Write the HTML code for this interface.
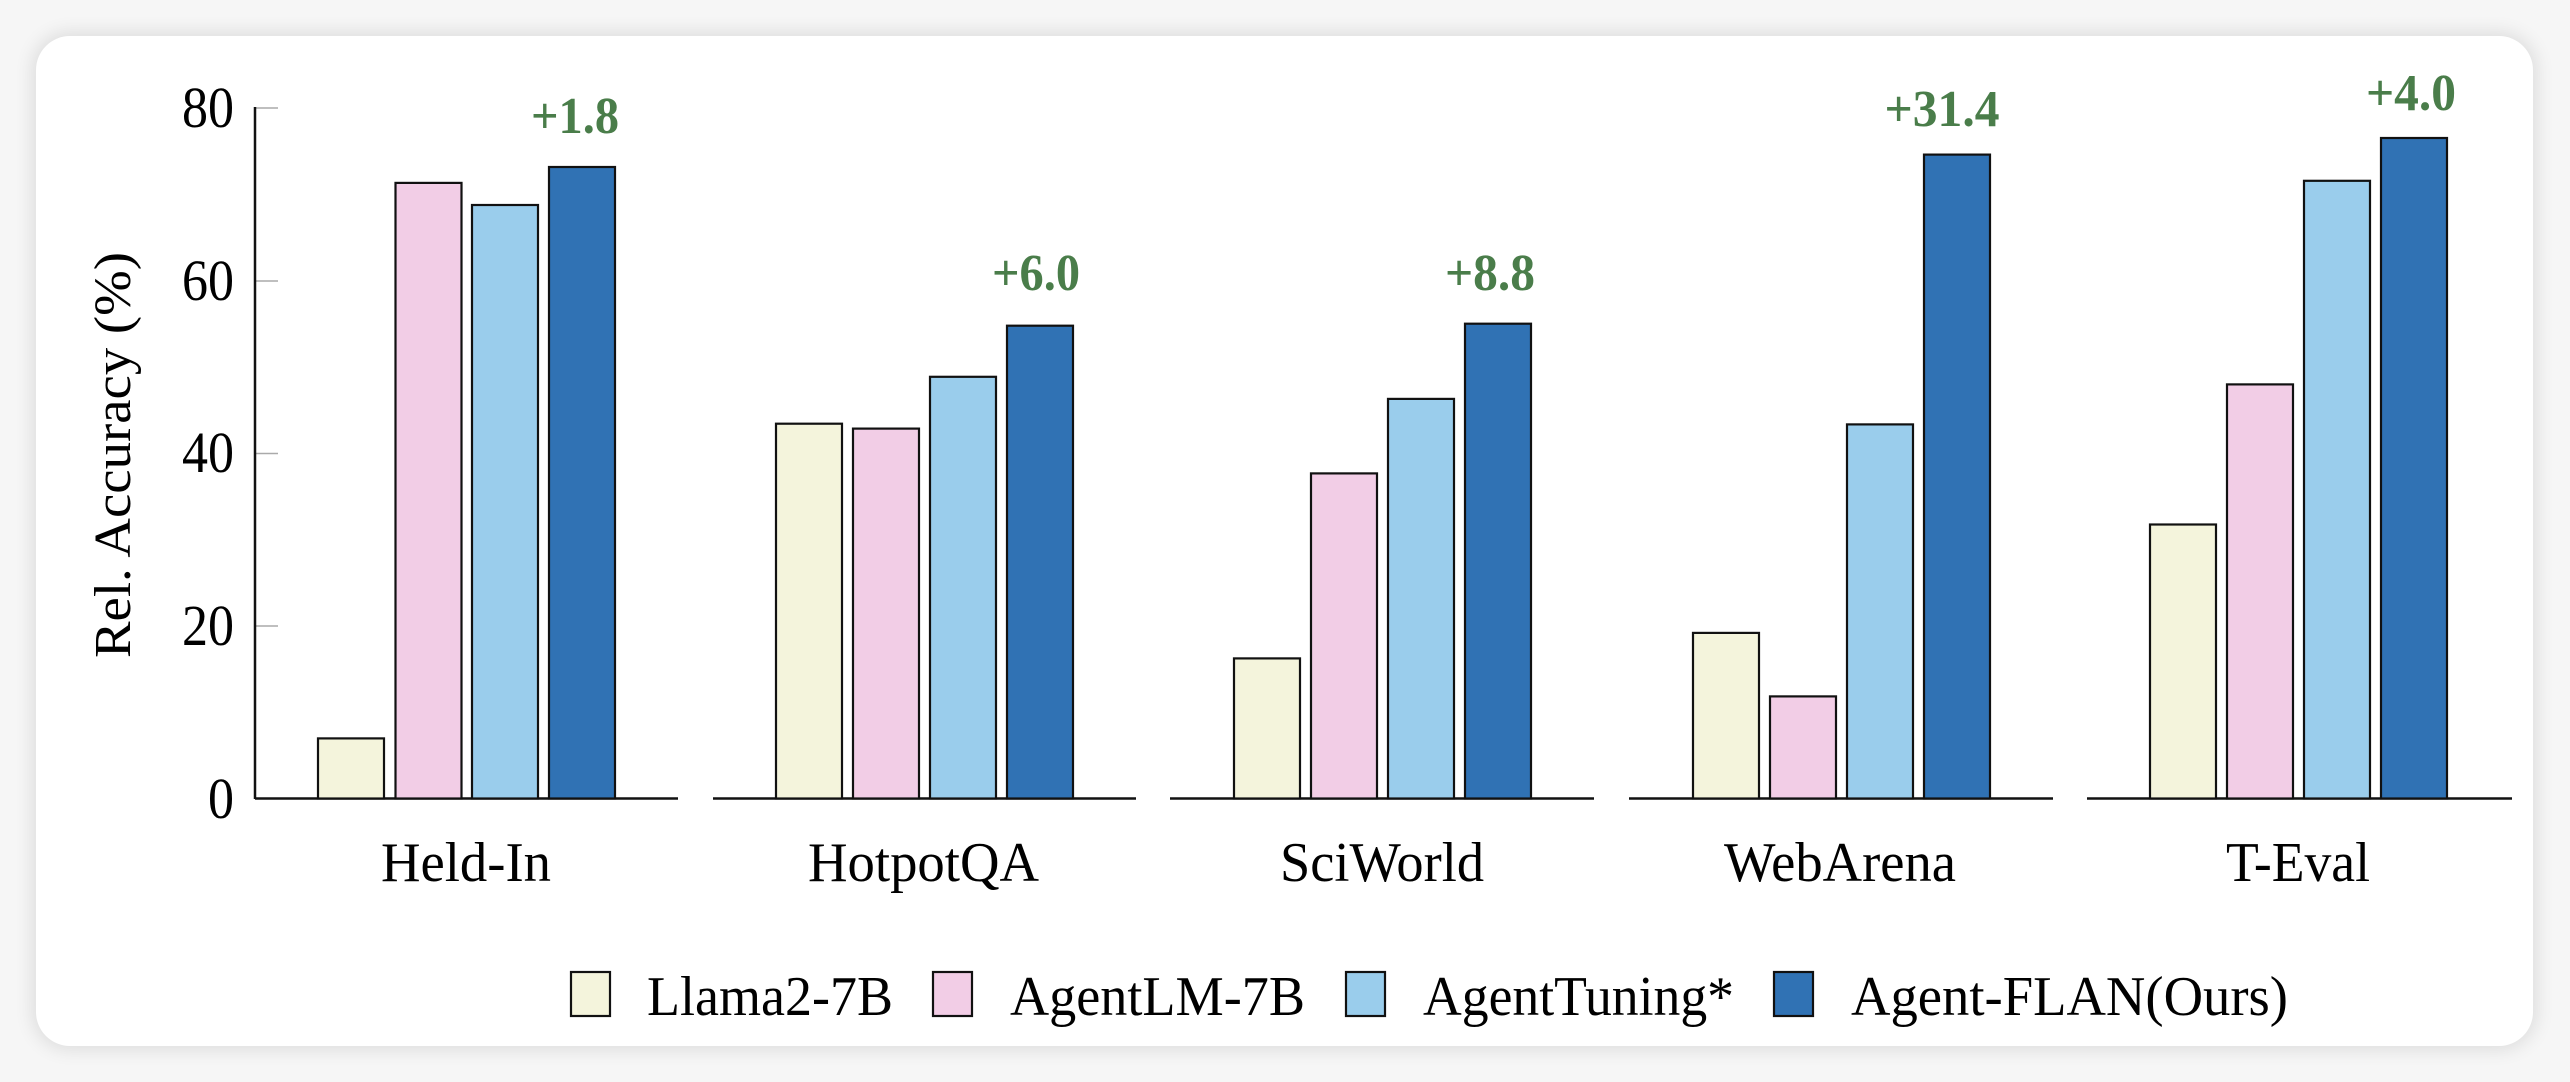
<!DOCTYPE html>
<html><head><meta charset="utf-8"><style>
html,body{margin:0;padding:0;background:#f6f6f6;}
body{width:2570px;height:1082px;overflow:hidden;position:relative;}
.card{position:absolute;left:36px;top:36px;width:2497px;height:1010px;background:#fff;border-radius:34px;box-shadow:0 0 18px 4px rgba(0,0,0,0.10);}
svg{position:absolute;left:0;top:0;}
svg text{font-family:"Liberation Serif","DejaVu Serif",serif;}
</style></head><body>
<div class="card"></div>
<svg width="2570" height="1082" viewBox="0 0 2570 1082" font-family="Liberation Serif, serif">
<g stroke="#aaa" stroke-width="1.5">
<line x1="255" y1="108" x2="278" y2="108"/>
<line x1="255" y1="281" x2="278" y2="281"/>
<line x1="255" y1="453.5" x2="278" y2="453.5"/>
<line x1="255" y1="626" x2="278" y2="626"/>
</g>
<line x1="255" y1="107" x2="255" y2="799" stroke="#111" stroke-width="2.5"/>
<g font-size="58" fill="#000" text-anchor="end" font-family="Liberation Serif, serif">
<text x="234" y="127" textLength="52" lengthAdjust="spacingAndGlyphs">80</text>
<text x="234" y="300" textLength="52" lengthAdjust="spacingAndGlyphs">60</text>
<text x="234" y="472" textLength="52" lengthAdjust="spacingAndGlyphs">40</text>
<text x="234" y="645" textLength="52" lengthAdjust="spacingAndGlyphs">20</text>
<text x="234" y="818" textLength="26" lengthAdjust="spacingAndGlyphs">0</text>
</g>
<text transform="translate(130,658) rotate(-90)" font-size="52" font-family="Liberation Serif, serif" textLength="406" lengthAdjust="spacingAndGlyphs">Rel. Accuracy (%)</text>
<g stroke="#111" stroke-width="2.5">
<line x1="255" y1="798.5" x2="678" y2="798.5"/>
<line x1="713" y1="798.5" x2="1136" y2="798.5"/>
<line x1="1170" y1="798.5" x2="1594" y2="798.5"/>
<line x1="1629" y1="798.5" x2="2053" y2="798.5"/>
<line x1="2087" y1="798.5" x2="2512" y2="798.5"/>
</g>
<g stroke="#111" stroke-width="2.2">
<rect x="318" y="738.4" width="66" height="60.1" fill="#f4f4dc"/>
<rect x="395.5" y="182.9" width="66" height="615.6" fill="#f2cde6"/>
<rect x="472" y="205" width="66" height="593.5" fill="#9acdec"/>
<rect x="549" y="167" width="66" height="631.5" fill="#3072b4"/>
<rect x="776" y="423.7" width="66" height="374.8" fill="#f4f4dc"/>
<rect x="853" y="428.6" width="66" height="369.9" fill="#f2cde6"/>
<rect x="930" y="376.8" width="66" height="421.7" fill="#9acdec"/>
<rect x="1007" y="325.7" width="66" height="472.8" fill="#3072b4"/>
<rect x="1234" y="658.4" width="66" height="140.1" fill="#f4f4dc"/>
<rect x="1311" y="473.4" width="66" height="325.1" fill="#f2cde6"/>
<rect x="1388" y="398.9" width="66" height="399.6" fill="#9acdec"/>
<rect x="1465" y="323.7" width="66" height="474.8" fill="#3072b4"/>
<rect x="1693" y="632.9" width="66" height="165.6" fill="#f4f4dc"/>
<rect x="1770" y="696.4" width="66" height="102.1" fill="#f2cde6"/>
<rect x="1847" y="424.4" width="66" height="374.1" fill="#9acdec"/>
<rect x="1924" y="154.6" width="66" height="643.9" fill="#3072b4"/>
<rect x="2150" y="524.5" width="66" height="274" fill="#f4f4dc"/>
<rect x="2227" y="384.4" width="66" height="414.1" fill="#f2cde6"/>
<rect x="2304" y="180.8" width="66" height="617.7" fill="#9acdec"/>
<rect x="2381" y="138" width="66" height="660.5" fill="#3072b4"/>
</g>
<g font-size="52" font-weight="bold" fill="#4a7d4a" text-anchor="middle" font-family="Liberation Serif, serif">
<text x="575" y="133" textLength="88" lengthAdjust="spacingAndGlyphs">+1.8</text>
<text x="1036" y="290" textLength="88" lengthAdjust="spacingAndGlyphs">+6.0</text>
<text x="1490" y="290" textLength="90" lengthAdjust="spacingAndGlyphs">+8.8</text>
<text x="1942" y="126" textLength="115" lengthAdjust="spacingAndGlyphs">+31.4</text>
<text x="2411" y="110" textLength="90" lengthAdjust="spacingAndGlyphs">+4.0</text>
</g>
<g font-size="56" fill="#000" font-family="Liberation Serif, serif">
<text x="381" y="881" textLength="170" lengthAdjust="spacingAndGlyphs">Held-In</text>
<text x="808" y="881" textLength="231" lengthAdjust="spacingAndGlyphs">HotpotQA</text>
<text x="1280" y="881" textLength="204" lengthAdjust="spacingAndGlyphs">SciWorld</text>
<text x="1724" y="881" textLength="232" lengthAdjust="spacingAndGlyphs">WebArena</text>
<text x="2226" y="881" textLength="144" lengthAdjust="spacingAndGlyphs">T-Eval</text>
</g>
<g stroke="#111" stroke-width="2.2">
<rect x="571" y="972" width="39" height="44" fill="#f4f4dc"/>
<rect x="933" y="972" width="39" height="44" fill="#f2cde6"/>
<rect x="1346" y="972" width="39" height="44" fill="#9acdec"/>
<rect x="1774" y="972" width="39" height="44" fill="#3072b4"/>
</g>
<g font-size="56" fill="#000" font-family="Liberation Serif, serif">
<text x="647" y="1015" textLength="246" lengthAdjust="spacingAndGlyphs">Llama2-7B</text>
<text x="1010" y="1015" textLength="295" lengthAdjust="spacingAndGlyphs">AgentLM-7B</text>
<text x="1423" y="1015" textLength="311" lengthAdjust="spacingAndGlyphs">AgentTuning*</text>
<text x="1851" y="1015" textLength="437" lengthAdjust="spacingAndGlyphs">Agent-FLAN(Ours)</text>
</g>
</svg>
</body></html>
